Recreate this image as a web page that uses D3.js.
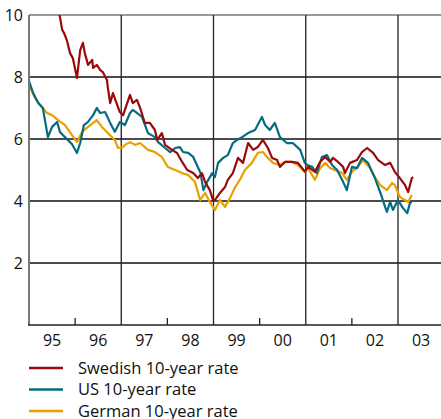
<!DOCTYPE html>
<html>
<head>
<meta charset="utf-8">
<script src="https://cdn.jsdelivr.net/npm/d3@7"></script>
<style>
  body { margin: 0; background: #fff; }
  svg { display: block; font-family: "Open Sans", sans-serif; }
</style>
</head>
<body>
<div id="chart"></div>
<script>
// Ticks
const yTicks = [2, 4, 6, 8, 10];
const yearLabels = ["95", "96", "97", "98", "99", "00", "01", "02", "03"];
const yearStarts = [1995, 1996, 1997, 1998, 1999, 2000, 2001, 2002, 2003];

// Series [year, rate]
const swedish = [
  [1995.00, 10.9], [1995.20, 11.5], [1995.45, 10.8], [1995.62, 10.3], [1995.67, 9.94],
  [1995.72, 9.52], [1995.76, 9.42], [1995.82, 9.19], [1995.89, 8.77], [1995.95, 8.61],
  [1996.04, 7.97], [1996.11, 8.87], [1996.17, 9.10], [1996.21, 8.77], [1996.28, 8.39],
  [1996.37, 8.55], [1996.39, 8.29], [1996.47, 8.39], [1996.54, 8.23], [1996.60, 8.16],
  [1996.69, 7.90], [1996.71, 7.65], [1996.76, 7.16], [1996.82, 7.48], [1996.89, 7.19],
  [1996.97, 6.87], [1997.04, 6.77], [1997.19, 7.42], [1997.25, 7.16], [1997.34, 7.26],
  [1997.41, 7.00], [1997.51, 6.52], [1997.62, 6.52], [1997.73, 6.29], [1997.78, 5.97],
  [1997.88, 6.19], [1997.95, 5.81], [1998.10, 5.65], [1998.21, 5.55], [1998.32, 5.26],
  [1998.43, 5.00], [1998.56, 4.90], [1998.66, 4.74], [1998.75, 4.90], [1998.82, 4.61],
  [1998.92, 4.35], [1998.99, 4.03], [1999.03, 4.03], [1999.14, 4.26], [1999.25, 4.45],
  [1999.31, 4.68], [1999.42, 4.90], [1999.53, 5.39], [1999.64, 5.23], [1999.75, 5.87],
  [1999.86, 5.65], [1999.96, 5.74], [2000.07, 5.97], [2000.18, 5.71], [2000.27, 5.39],
  [2000.38, 5.32], [2000.44, 5.10], [2000.55, 5.26], [2000.70, 5.26], [2000.83, 5.23],
  [2000.98, 4.95], [2001.05, 5.10], [2001.20, 4.94], [2001.31, 5.26], [2001.42, 5.42],
  [2001.53, 5.26], [2001.59, 5.39], [2001.70, 5.26], [2001.81, 5.10], [2001.85, 4.90],
  [2001.96, 5.23], [2002.11, 5.32], [2002.22, 5.58], [2002.33, 5.71], [2002.46, 5.55],
  [2002.57, 5.32], [2002.72, 5.16], [2002.83, 5.23], [2002.93, 4.94], [2003.04, 4.74],
  [2003.15, 4.52], [2003.22, 4.29], [2003.30, 4.74], [2003.33, 4.77]
];

const us = [
  [1995.00, 7.87], [1995.09, 7.48], [1995.20, 7.16], [1995.30, 7.00], [1995.41, 6.06],
  [1995.50, 6.39], [1995.61, 6.55], [1995.67, 6.23], [1995.78, 6.06], [1995.93, 5.84],
  [1996.04, 5.55], [1996.11, 5.87], [1996.19, 6.45], [1996.28, 6.55], [1996.39, 6.77],
  [1996.47, 7.00], [1996.54, 6.84], [1996.65, 6.87], [1996.76, 6.52], [1996.86, 6.23],
  [1996.97, 6.55], [1997.08, 6.45], [1997.19, 6.84], [1997.25, 6.94], [1997.34, 6.84],
  [1997.45, 6.71], [1997.58, 6.19], [1997.73, 6.06], [1997.80, 5.90], [1997.95, 5.71],
  [1998.06, 5.58], [1998.17, 5.71], [1998.27, 5.74], [1998.34, 5.58], [1998.45, 5.55],
  [1998.56, 5.42], [1998.64, 5.16], [1998.72, 4.90], [1998.78, 4.35], [1998.86, 4.61],
  [1998.97, 4.90], [1999.03, 4.77], [1999.10, 5.23], [1999.21, 5.39], [1999.31, 5.48],
  [1999.42, 5.87], [1999.51, 5.97], [1999.62, 6.06], [1999.75, 6.19], [1999.90, 6.29],
  [2000.05, 6.71], [2000.12, 6.45], [2000.22, 6.29], [2000.33, 6.52], [2000.44, 6.06],
  [2000.59, 5.87], [2000.72, 5.87], [2000.88, 5.65], [2000.98, 5.23], [2001.03, 5.16],
  [2001.14, 5.10], [2001.24, 4.90], [2001.35, 5.42], [2001.46, 5.48], [2001.57, 5.16],
  [2001.68, 5.00], [2001.79, 4.68], [2001.89, 4.35], [2002.00, 5.10], [2002.11, 5.06],
  [2002.22, 5.39], [2002.35, 5.23], [2002.50, 4.74], [2002.65, 4.13], [2002.72, 3.81],
  [2002.76, 3.65], [2002.83, 3.97], [2002.89, 3.71], [2003.00, 4.03], [2003.11, 3.77],
  [2003.20, 3.61], [2003.26, 3.94], [2003.30, 3.97]
];

const german = [
  [1995.00, 7.74], [1995.13, 7.32], [1995.28, 7.03], [1995.39, 6.84], [1995.50, 6.77],
  [1995.63, 6.61], [1995.78, 6.45], [1995.93, 6.13], [1996.04, 5.90], [1996.15, 6.23],
  [1996.28, 6.39], [1996.47, 6.61], [1996.58, 6.39], [1996.71, 6.19], [1996.86, 5.97],
  [1996.93, 5.71], [1997.04, 5.74], [1997.08, 5.81], [1997.19, 5.90], [1997.30, 5.81],
  [1997.41, 5.87], [1997.58, 5.65], [1997.73, 5.58], [1997.88, 5.42], [1998.01, 5.10],
  [1998.17, 5.00], [1998.32, 4.90], [1998.45, 4.84], [1998.60, 4.61], [1998.71, 4.03],
  [1998.82, 4.26], [1998.92, 3.97], [1999.03, 3.71], [1999.14, 4.03], [1999.25, 3.81],
  [1999.36, 4.10], [1999.47, 4.45], [1999.57, 4.68], [1999.68, 5.00], [1999.83, 5.23],
  [1999.96, 5.55], [2000.07, 5.58], [2000.18, 5.39], [2000.29, 5.23], [2000.44, 5.16],
  [2000.55, 5.26], [2000.70, 5.26], [2000.83, 5.16], [2000.98, 4.94], [2001.05, 5.06],
  [2001.20, 4.68], [2001.31, 5.06], [2001.42, 5.23], [2001.53, 5.06], [2001.63, 5.00],
  [2001.79, 4.90], [2001.89, 4.68], [2002.00, 4.94], [2002.13, 5.10], [2002.24, 5.32],
  [2002.39, 5.06], [2002.50, 4.77], [2002.61, 4.52], [2002.76, 4.35], [2002.87, 4.58],
  [2002.93, 4.52], [2003.04, 4.13], [2003.15, 4.03], [2003.22, 3.97], [2003.30, 4.19]
];

const series = [
  { name: "Swedish 10-year rate", color: "#9b0a0a", values: swedish },
  { name: "US 10-year rate", color: "#036c82", values: us },
  { name: "German 10-year rate", color: "#eaa000", values: german }
];

const W = 441, H = 419;
const m = { left: 29, right: 441, top: 15, bottom: 325 };

const svg = d3.select("#chart").append("svg")
  .attr("width", W)
  .attr("height", H);

const x = d3.scaleLinear().domain([1995, 2003]).range([m.left, 398]);
const y = d3.scaleLinear().domain([0, 10]).range([m.bottom, m.top]);

svg.append("clipPath").attr("id", "plot")
  .append("rect")
  .attr("x", m.left).attr("y", m.top)
  .attr("width", m.right - m.left).attr("height", m.bottom - m.top);

// horizontal grid
svg.append("g")
  .selectAll("line")
  .data(yTicks.filter(d => d < 10))
  .enter().append("line")
  .attr("x1", m.left).attr("x2", m.right)
  .attr("y1", d => y(d)).attr("y2", d => y(d))
  .attr("stroke", "#111")
  .attr("stroke-width", 1.3);

// top frame
svg.append("line")
  .attr("x1", m.left).attr("x2", m.right)
  .attr("y1", y(10)).attr("y2", y(10))
  .attr("stroke", "#777").attr("stroke-width", 1.5);

// vertical grid at every other year start, small ticks between
svg.append("g")
  .selectAll("line")
  .data(yearStarts.slice(1))
  .enter().append("line")
  .attr("x1", d => x(d)).attr("x2", d => x(d))
  .attr("y1", d => (d % 2 === 1) ? m.top : m.bottom - 7)
  .attr("y2", m.bottom)
  .attr("stroke", "#222")
  .attr("stroke-width", 1.3);

// series
const line = d3.line()
  .x(d => x(d[0]))
  .y(d => y(d[1]));

svg.append("g")
  .attr("clip-path", "url(#plot)")
  .selectAll("path")
  .data([series[2], series[1], series[0]])
  .enter().append("path")
  .attr("d", d => line(d.values))
  .attr("fill", "none")
  .attr("stroke", d => d.color)
  .attr("stroke-width", 2.2)
  .attr("stroke-linejoin", "round");

// axes lines
svg.append("line")
  .attr("x1", m.left).attr("x2", m.left)
  .attr("y1", m.top).attr("y2", m.bottom)
  .attr("stroke", "#777").attr("stroke-width", 2);

svg.append("line")
  .attr("x1", m.left - 1).attr("x2", m.right)
  .attr("y1", m.bottom).attr("y2", m.bottom)
  .attr("stroke", "#222").attr("stroke-width", 1.5);

// y labels
const yAxis = svg.append("g")
  .attr("transform", `translate(${m.left - 6},0)`)
  .call(d3.axisLeft(y).tickValues(yTicks).tickSize(0).tickPadding(0));
yAxis.select(".domain").remove();
yAxis.selectAll("text")
  .attr("font-size", 16)
  .attr("font-family", "Open Sans, sans-serif")
  .attr("fill", "#111");

// x labels at year midpoints
svg.append("g")
  .selectAll("text")
  .data(yearStarts)
  .enter().append("text")
  .attr("x", d => x(d + 0.5))
  .attr("y", m.bottom + 21)
  .attr("text-anchor", "middle")
  .attr("font-size", 16)
  .attr("fill", "#111")
  .text((d, i) => yearLabels[i]);

// legend
const legend = svg.append("g")
  .selectAll("g")
  .data(series)
  .enter().append("g")
  .attr("transform", (d, i) => `translate(${m.left},${368 + i * 21.5})`);

legend.append("line")
  .attr("x1", 0).attr("x2", 34)
  .attr("stroke", d => d.color)
  .attr("stroke-width", 2.5);

legend.append("text")
  .attr("x", 49)
  .attr("dy", "0.35em")
  .attr("font-size", 16.5)
  .attr("fill", "#111")
  .text(d => d.name);
</script>
</body>
</html>
